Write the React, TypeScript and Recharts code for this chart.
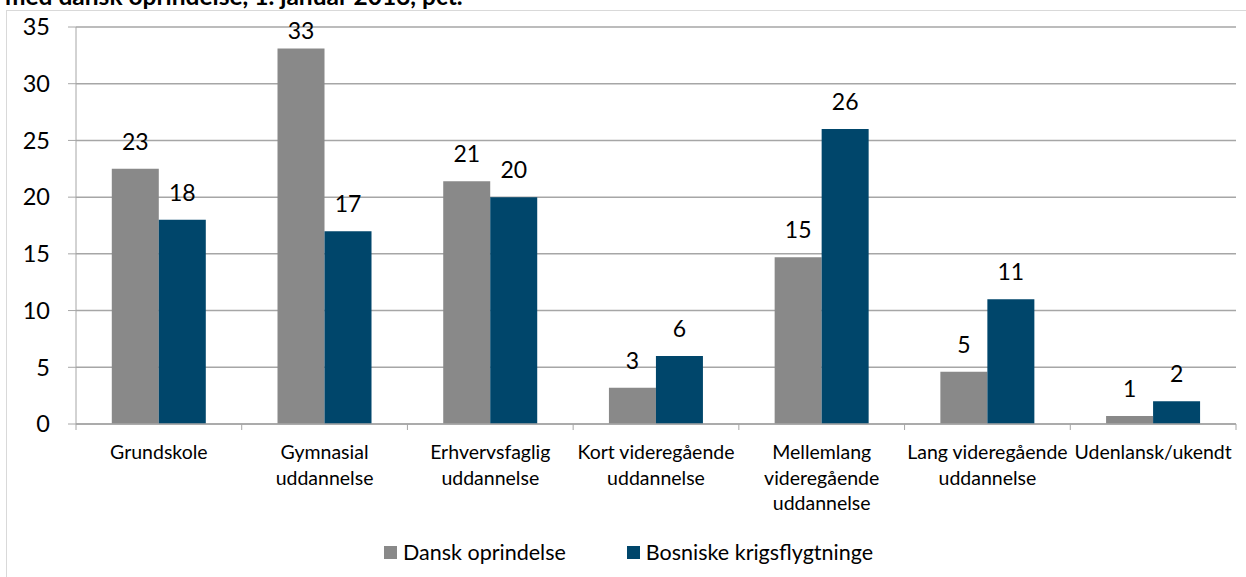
import { Bar, BarChart, CartesianGrid, LabelList, XAxis, YAxis } from "recharts";

const categories = [
  "Grundskole",
  "Gymnasial\nuddannelse",
  "Erhvervsfaglig\nuddannelse",
  "Kort videregående\nuddannelse",
  "Mellemlang\nvideregående\nuddannelse",
  "Lang videregående\nuddannelse",
  "Udenlansk/ukendt",
];
const dansk = [22.5, 33.1, 21.4, 3.2, 14.7, 4.6, 0.7];
const bosniske = [18, 17, 20, 6, 26, 11, 2];
const yTicks = [0, 5, 10, 15, 20, 25, 30, 35];

const seriesNames = { dansk: "Dansk oprindelse", bosniske: "Bosniske krigsflygtninge" };
const GREY = "#898989";
const BLUE = "#00466b";
const AXIS = "#a6a6a6";
const FONT = "Lato, 'Open Sans', sans-serif";

const data = categories.map((name, i) => ({
  name,
  dansk: dansk[i],
  bosniske: bosniske[i],
}));

const WIDTH = 1246;
const HEIGHT = 577;
const MARGIN = { top: 27, right: 10, bottom: 53, left: 16 };
const Y_AXIS_W = 60;
const BAND = (WIDTH - MARGIN.left - MARGIN.right - Y_AXIS_W) / categories.length;

function CategoryTick(props: any) {
  const { x, y, payload } = props;
  const lines = String(payload.value).split("\n");
  const last = payload.index === categories.length - 1;
  return (
    <g>
      <line x1={x - BAND / 2} x2={x - BAND / 2} y1={y} y2={y + 6} stroke={AXIS} />
      {last && <line x1={x + BAND / 2} x2={x + BAND / 2} y1={y} y2={y + 6} stroke={AXIS} />}
      <text textAnchor="middle" fontSize={19.5} fontFamily={FONT} fill="#000">
        {lines.map((l, i) => (
          <tspan key={i} x={x} y={y + 35 + i * 25.5}>
            {l}
          </tspan>
        ))}
      </text>
    </g>
  );
}

// value label above the bar, kept inside the plot like Excel does
function ValueLabel(props: any) {
  const { x, y, width, value } = props;
  const baseline = Math.max(Number(y) - 19, MARGIN.top + 12);
  return (
    <text
      x={Number(x) + Number(width) / 2}
      y={baseline}
      textAnchor="middle"
      fontSize={23}
      fontFamily={FONT}
      fill="#000"
    >
      {Math.round(Number(value))}
    </text>
  );
}

export default function App() {
  return (
    <div
      style={{
        position: "fixed",
        left: 0,
        top: 0,
        width: WIDTH,
        height: HEIGHT,
        overflow: "hidden",
        background: "#fff",
        fontFamily: FONT,
      }}
    >
      <div
        style={{
          position: "absolute",
          left: 5,
          top: -16,
          fontSize: 24.5,
          lineHeight: "24px",
          fontWeight: 700,
          whiteSpace: "nowrap",
          color: "#000",
        }}
      >
        med dansk oprindelse, 1. januar 2013, pct.
      </div>
      <div
        style={{
          position: "absolute",
          left: 6,
          top: 10,
          width: WIDTH,
          height: HEIGHT,
          border: "1px solid #d9d9d9",
        }}
      />
      <div style={{ position: "absolute", left: 0, top: 0 }}>
        <BarChart
          width={WIDTH}
          height={HEIGHT}
          data={data}
          margin={MARGIN}
          barCategoryGap="21.6%"
          barGap={0}
        >
          <CartesianGrid vertical={false} stroke={AXIS} strokeWidth={1.5} />
          <XAxis
            dataKey="name"
            interval={0}
            height={100}
            tickLine={false}
            tickSize={0}
            tickMargin={0}
            axisLine={{ stroke: AXIS, strokeWidth: 1.5 }}
            tick={<CategoryTick />}
          />
          <YAxis
            width={Y_AXIS_W}
            domain={[0, 35]}
            ticks={yTicks}
            interval={0}
            tickSize={8}
            tickMargin={18}
            tickLine={{ stroke: AXIS }}
            axisLine={{ stroke: AXIS }}
            tick={{ fontSize: 23.5, fill: "#000", fontFamily: FONT }}
          />
          <Bar dataKey="dansk" name={seriesNames.dansk} fill={GREY} isAnimationActive={false}>
            <LabelList dataKey="dansk" content={<ValueLabel />} />
          </Bar>
          <Bar dataKey="bosniske" name={seriesNames.bosniske} fill={BLUE} isAnimationActive={false}>
            <LabelList dataKey="bosniske" content={<ValueLabel />} />
          </Bar>
        </BarChart>
      </div>
      <div
        style={{
          position: "absolute",
          left: 384,
          top: 540,
          display: "flex",
          alignItems: "center",
          fontSize: 21.5,
          lineHeight: "24px",
          color: "#000",
        }}
      >
        <span style={{ width: 13, height: 13, background: GREY, marginRight: 6 }} />
        <span style={{ marginRight: 61 }}>{seriesNames.dansk}</span>
        <span style={{ width: 13, height: 13, background: BLUE, marginRight: 6 }} />
        <span>{seriesNames.bosniske}</span>
      </div>
    </div>
  );
}
